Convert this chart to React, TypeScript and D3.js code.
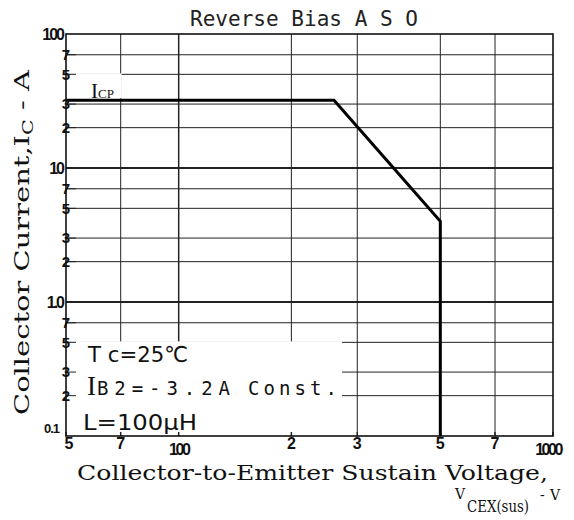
import React from 'react';
import * as d3 from 'd3';

const X_GRID = [70, 100, 200, 300, 500, 700];
const Y_GRID = [0.2, 0.3, 0.5, 0.7, 1, 2, 3, 5, 7, 10, 20, 30, 50, 70];
const X_TICKS = [50, 70, 100, 200, 300, 500, 700, 1000];
const X_LABELS = ['5', '7', '100', '2', '3', '5', '7', '1000'];
const Y_TICKS = [0.1, 0.2, 0.3, 0.5, 0.7, 1, 2, 3, 5, 7, 10, 20, 30, 50, 70, 100];
const Y_LABELS = ['0.1', '2', '3', '5', '7', '1.0', '2', '3', '5', '7', '10', '2', '3', '5', '7', '100'];
const SOA_V = [50, 260, 500, 500];
const SOA_I = [32, 32, 4, 0.1];
const ICP = 32;
const X_DOMAIN = [50, 1000];
const Y_DOMAIN = [0.1, 100];

const isDecade = (v: number) => Math.abs(Math.log10(v) - Math.round(Math.log10(v))) < 1e-9;

const SERIF = 'DejaVu Serif';
const MONO = 'DejaVu Sans Mono';
const SANS = 'Liberation Sans';

export default function App() {
  const x = d3.scaleLog().domain(X_DOMAIN).range([66, 553]);
  const y = d3.scaleLog().domain(Y_DOMAIN).range([436, 34]);
  const x0 = x(X_DOMAIN[0]);
  const x1 = x(X_DOMAIN[1]);
  const yTop = y(Y_DOMAIN[1]);
  const yBot = y(Y_DOMAIN[0]);

  const line = d3
    .line<number>()
    .x((_, i) => x(SOA_V[i]))
    .y((_, i) => y(SOA_I[i]));
  const path = line(SOA_V) || '';

  const ink = '#111';
  const grid = '#222';

  return (
    <svg
      width={574}
      height={520}
      style={{ position: 'absolute', left: 0, top: 0, background: '#fff' }}
    >
      <rect x={0} y={0} width={574} height={520} fill="#fff" />
      {/* grid */}
      {X_GRID.map((v) => (
        <line
          key={'vx' + v}
          x1={x(v)}
          x2={x(v)}
          y1={yTop}
          y2={yBot}
          stroke={grid}
          strokeWidth={isDecade(v) ? 1.5 : 1}
        />
      ))}
      {Y_GRID.map((v) => (
        <line
          key={'hy' + v}
          x1={x0}
          x2={x1}
          y1={y(v)}
          y2={y(v)}
          stroke={grid}
          strokeWidth={isDecade(v) ? 1.8 : 1}
        />
      ))}
      {/* blank areas behind labels */}
      <rect x={x0 + 1} y={y(50) - 1} width={x(70) - x0} height={y(ICP) - y(50) - 1} fill="#fff" />
      <rect x={x0 + 1} y={y(0.5) - 1} width={342 - x0 - 1} height={yBot - y(0.5)} fill="#fff" />
      {/* left stubs */}
      {Y_TICKS.filter((v) => !isDecade(v)).map((v) => (
        <line key={'st' + v} x1={x0} x2={x0 + 10} y1={y(v)} y2={y(v)} stroke={grid} strokeWidth={1} />
      ))}
      {/* bottom ticks */}
      {X_TICKS.map((v) => (
        <line key={'bt' + v} x1={x(v)} x2={x(v)} y1={yBot} y2={yBot - 4} stroke={grid} strokeWidth={1.5} />
      ))}
      {/* border */}
      <rect x={x0} y={yTop} width={x1 - x0} height={yBot - yTop} fill="none" stroke={ink} strokeWidth={1.6} />
      {/* SOA curve */}
      <path d={path} fill="none" stroke="#000" strokeWidth={3} strokeLinejoin="miter" />

      {/* y tick labels */}
      {Y_TICKS.map((v, i) => {
        const dec = isDecade(v);
        const lab = Y_LABELS[i];
        if (dec) {
          const first = v === Y_DOMAIN[0];
          return (
            <text
              key={'yl' + v}
              x={first ? 59 : 63}
              y={first ? y(v) - 8 : y(v)}
              dy="0.36em"
              textAnchor="end"
              fontFamily={SANS}
              fontWeight="bold"
              fontSize={first ? 13 : 16}
              letterSpacing={first ? -1 : -2}
              fill={ink}
            >
              {lab}
            </text>
          );
        }
        return (
          <text
            key={'yl' + v}
            x={70}
            y={y(v)}
            dy="0.36em"
            textAnchor="end"
            fontFamily={SANS}
            fontWeight="bold"
            fontSize={15}
            fill={ink}
          >
            {lab}
          </text>
        );
      })}
      {/* x tick labels */}
      {X_TICKS.map((v, i) => {
        const dec = isDecade(v);
        const lab = X_LABELS[i];
        let xx = x(v);
        if (i === 0) xx += 3;
        if (i === X_TICKS.length - 1) xx -= 5;
        return (
          <text
            key={'xl' + v}
            x={xx}
            y={dec ? 455 : 449}
            textAnchor="middle"
            fontFamily={SANS}
            fontWeight="bold"
            fontSize={16}
            letterSpacing={dec ? -2.5 : 0}
            fill={ink}
          >
            {lab}
          </text>
        );
      })}

      {/* title */}
      <text
        x={190}
        y={26}
        fontFamily={MONO}
        fontSize={21}
        textLength={228}
        lengthAdjust="spacingAndGlyphs"
        fill="#222"
      >
        Reverse Bias A S O
      </text>

      {/* ICP label */}
      <text x={91} y={98} fontFamily="Liberation Serif" fill={ink}>
        <tspan fontSize={21}>I</tspan>
        <tspan fontSize={13}>CP</tspan>
      </text>

      {/* conditions */}
      <text x={88} y={362} fontFamily="DejaVu Sans" fontSize={22} fill={ink} textLength={100} lengthAdjust="spacingAndGlyphs">
        T c=25℃
      </text>
      <text x={87} y={395} fontFamily="Liberation Serif" fontSize={27} fill={ink}>
        I
      </text>
      <text x={97} y={395} fontFamily={MONO} fontSize={19} fill={ink} textLength={133} lengthAdjust="spacing">
        B2=-3.2A
      </text>
      <text x={248} y={395} fontFamily={MONO} fontSize={19} fill={ink} textLength={89} lengthAdjust="spacing">
        Const.
      </text>
      <text x={83} y={430} fontFamily="DejaVu Sans" fontSize={21} fill={ink} textLength={114} lengthAdjust="spacingAndGlyphs">
        L=100μH
      </text>

      {/* x axis title */}
      <text x={77} y={480} fontFamily={SERIF} fontSize={21} fill={ink} textLength={471} lengthAdjust="spacingAndGlyphs">
        Collector-to-Emitter Sustain Voltage,
      </text>
      <text x={455} y={499} fontFamily={SERIF} fontSize={14} fill={ink}>V</text>
      <text x={467} y={512} fontFamily={SERIF} fontSize={16} fill={ink} textLength={62} lengthAdjust="spacingAndGlyphs">
        CEX(sus)
      </text>
      <text x={540} y={500} fontFamily={SERIF} fontSize={14} fill={ink} textLength={20} lengthAdjust="spacing">
        - V
      </text>

      {/* y axis title */}
      <text
        transform="translate(29,415) rotate(-90)"
        x={0}
        y={0}
        fontFamily={SERIF}
        fontSize={21}
        fill={ink}
        textLength={345}
        lengthAdjust="spacingAndGlyphs"
      >
        Collector Current,I
        <tspan fontSize={15} dy={4}>C</tspan>
        <tspan dy={-4}> - A</tspan>
      </text>
    </svg>
  );
}
